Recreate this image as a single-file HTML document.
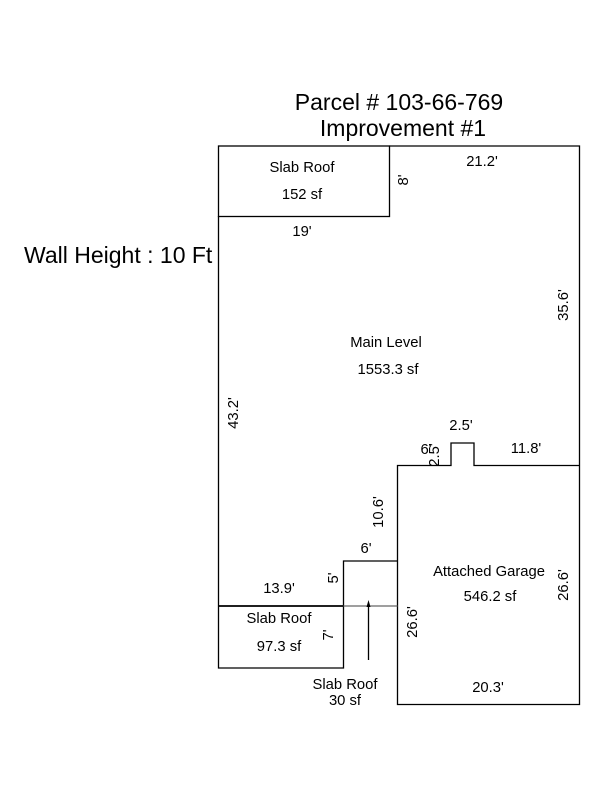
<!DOCTYPE html>
<html><head><style>body{margin:0;background:#fff}svg{display:block}text{font-family:"Liberation Sans",Arial,sans-serif;fill:#000}</style></head>
<body>
<svg width="600" height="800" viewBox="0 0 600 800" xmlns="http://www.w3.org/2000/svg">
<g stroke="#000" stroke-width="1.3" fill="none">
<rect x="218.5" y="146" width="171" height="70.5"/>
<polyline points="389.5,146 579.5,146 579.5,704.5 397.5,704.5 397.5,465.5 451,465.5 451,443 474,443 474,465.5 579.5,465.5"/>
<polyline points="218.5,216 218.5,668 343.5,668 343.5,561 397.5,561"/>
<line x1="218.5" y1="606" x2="343.5" y2="606" stroke-width="1.8"/>
<line x1="343.5" y1="606" x2="397.5" y2="606" stroke="#666"/>
<line x1="368.5" y1="660" x2="368.5" y2="604"/>
</g>
<polygon points="368.5,600 366.5,607 370.5,607" fill="#000"/>
<g font-size="23" text-anchor="middle">
<text x="399" y="110">Parcel # 103-66-769</text>
<text x="403" y="136">Improvement #1</text>
</g>
<text x="24" y="263" font-size="23">Wall Height : 10 Ft</text>
<g font-size="14.8" text-anchor="middle">
<text x="302" y="172">Slab Roof</text>
<text x="302" y="199">152 sf</text>
<text x="302" y="236">19'</text>
<text x="482" y="166">21.2'</text>
<text x="386" y="347">Main Level</text>
<text x="388" y="374">1553.3 sf</text>
<text x="461" y="430">2.5'</text>
<text x="426" y="454">6'</text>
<text x="526" y="453">11.8'</text>
<text x="366" y="553">6'</text>
<text x="489" y="576">Attached Garage</text>
<text x="490" y="601">546.2 sf</text>
<text x="279" y="593">13.9'</text>
<text x="279" y="623">Slab Roof</text>
<text x="279" y="651">97.3 sf</text>
<text x="345" y="689">Slab Roof</text>
<text x="345" y="705">30 sf</text>
<text x="488" y="692">20.3'</text>
<text transform="translate(408,180) rotate(-90)">8'</text>
<text transform="translate(568,305) rotate(-90)">35.6'</text>
<text transform="translate(238,413) rotate(-90)">43.2'</text>
<text transform="translate(383,512) rotate(-90)">10.6'</text>
<text transform="translate(338,578) rotate(-90)">5'</text>
<text transform="translate(333,635) rotate(-90)">7'</text>
<text transform="translate(417,622) rotate(-90)">26.6'</text>
<text transform="translate(568,585) rotate(-90)">26.6'</text>
<text transform="translate(439,455) rotate(-90)">2.5'</text>
</g>
</svg>
</body></html>
